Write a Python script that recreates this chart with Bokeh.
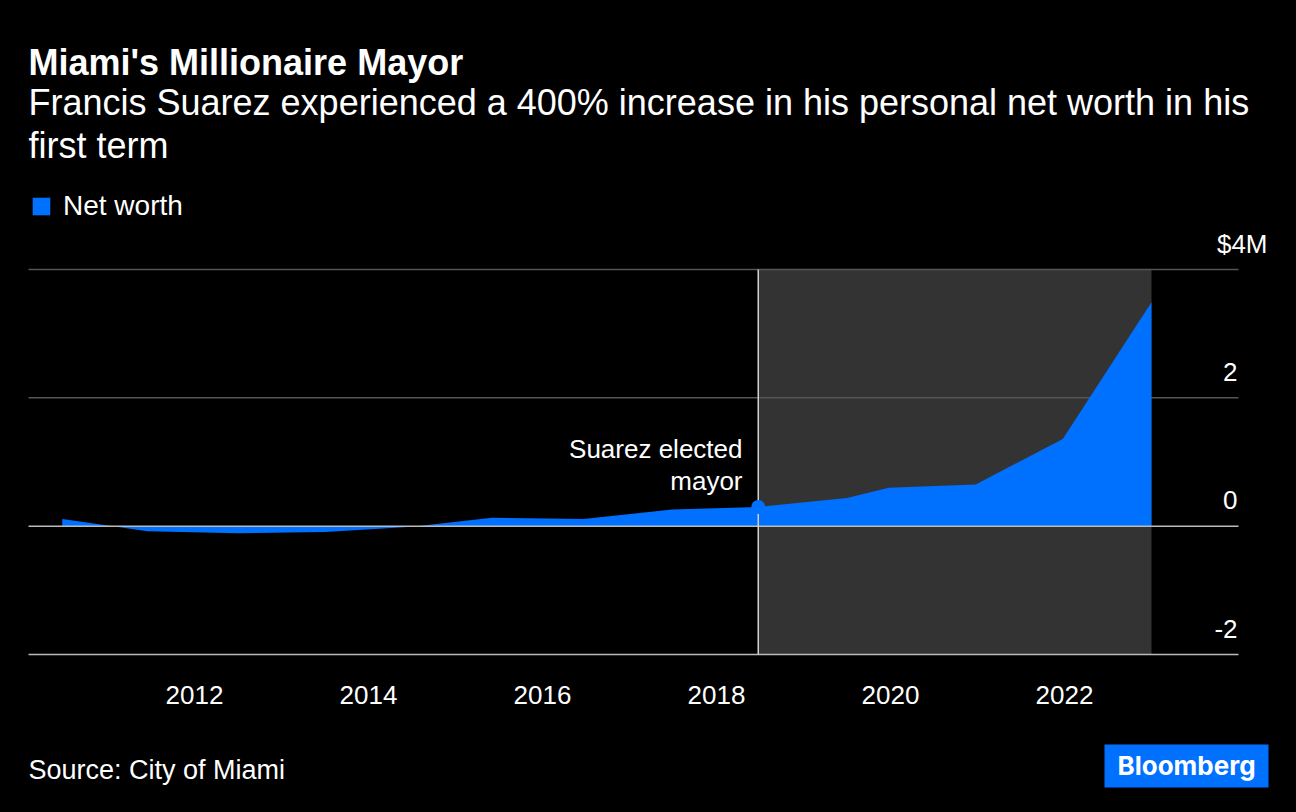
from bokeh.plotting import figure
from bokeh.models import Range1d, Label, BoxAnnotation, Legend, LegendItem
from bokeh.embed import file_html
from bokeh.resources import INLINE

# ---- data ----
years = [2010.48, 2011.46, 2012.5, 2013.5, 2014.5, 2015.42, 2016.47, 2017.49,
         2018.48, 2019.5, 2019.98, 2020.98, 2021.98, 2023.0]
net_worth = [0.11, -0.08, -0.11, -0.09, -0.01, 0.13, 0.11, 0.26,
             0.30, 0.44, 0.60, 0.65, 1.36, 3.49]
x_ticks = [2012, 2014, 2016, 2018, 2020, 2022]
x_tick_labels = ["2012", "2014", "2016", "2018", "2020", "2022"]
y_ticks = [-2, 0, 2, 4]
y_tick_labels = ["-2", "0", "2", "$4M"]
election_year = 2018.48
term_end = 2023.0
election_index = 8

# ---- layout constants ----
W, H = 1296, 812
X_MIN, X_MAX = 2010.092, 2024.0      # chart-area extent (data units)
Y_MIN, Y_MAX = -2.0, 4.0
FONT = "Liberation Sans"
BLUE = "#0070FF"
WHITE = "#ffffff"

p = figure(width=W, height=H, output_backend="svg", toolbar_location=None,
           x_range=Range1d(2009.77011, 2024.66667),
           y_range=Range1d(-4.4623, 8.1922),
           min_border=0, min_border_left=0, min_border_right=0,
           min_border_top=0, min_border_bottom=0,
           background_fill_color="black", border_fill_color="black",
           outline_line_color=None)
p.axis.visible = False
p.grid.visible = False

# shaded first term
p.quad(left=[election_year], right=[term_end], bottom=[Y_MIN], top=[Y_MAX],
       fill_color="#333333", line_color=None)

# horizontal grid lines (2, 4)
grid_vals = [v for v in y_ticks if v > 0]
p.segment(x0=[X_MIN] * len(grid_vals), x1=[X_MAX] * len(grid_vals),
          y0=grid_vals, y1=grid_vals, line_color="#555555", line_width=1.5)

# area
area = p.varea(x=years, y1=0, y2=net_worth, fill_color=BLUE)

# zero line and bottom axis line
p.segment(x0=[X_MIN, X_MIN], x1=[X_MAX, X_MAX], y0=[0, Y_MIN], y1=[0, Y_MIN],
          line_color="#bbbbbb", line_width=1.5)

# election marker line
p.segment(x0=[election_year], x1=[election_year], y0=[Y_MIN], y1=[Y_MAX],
          line_color="#d0d0d0", line_width=1.5)

p.scatter([years[election_index]], [net_worth[election_index]], size=14,
          color=BLUE, line_color=None)


def text(x, y, s, size, align="left", style="normal", font=FONT, xu="screen", yu="screen",
         y_off=0):
    p.add_layout(Label(x=x, y=y, x_units=xu, y_units=yu, y_offset=y_off, text=s,
                       text_align=align, text_baseline="middle", text_font=font,
                       text_font_style=style, text_font_size=size, text_color=WHITE))


# y tick labels (right side, above grid lines); unit suffix hangs past the grid end
for v, t in zip(y_ticks, y_tick_labels):
    text(1267 if t.endswith("M") else 1237, v, t, "26px", align="right",
         yu="data", y_off=26)

# x tick labels
for v, t in zip(x_ticks, x_tick_labels):
    text(v, H - 694, t, "26px", align="center", xu="data")

# annotation
text(742, H - 448, "Suarez elected", "26px", align="right")
text(742, H - 480, "mayor", "26px", align="right")

# titles
text(28, H - 62, "Miami's Millionaire Mayor", "36px", style="bold")
text(28, H - 102, "Francis Suarez experienced a 400% increase in his personal net worth in his",
     "36px")
text(28, H - 145, "first term", "36px")

# legend
legend = Legend(items=[LegendItem(label="Net worth", renderers=[area])],
                location=(30, H - 222), orientation="horizontal",
                glyph_width=22, glyph_height=22, label_standoff=11,
                padding=0, margin=0, spacing=0,
                background_fill_alpha=0, border_line_color=None,
                label_text_font=FONT, label_text_font_size="28px",
                label_text_color=WHITE)
p.add_layout(legend)

# source
text(28, H - 769, "Source: City of Miami", "27px")

# Bloomberg logo
p.add_layout(BoxAnnotation(left=1104, right=1268, bottom=H - 787, top=H - 744,
                           left_units="screen", right_units="screen",
                           bottom_units="screen", top_units="screen",
                           fill_color=BLUE, fill_alpha=1.0, line_color=None))
text(1186, H - 765, "Bloomberg", "26px", align="center", style="bold", font="Inter")

html = file_html(p, INLINE)
html = html.replace("<head>",
                    "<head><style>html,body{margin:0;padding:0;background:#000;overflow:hidden;}</style>", 1)
open("out.html", "w").write(html)
